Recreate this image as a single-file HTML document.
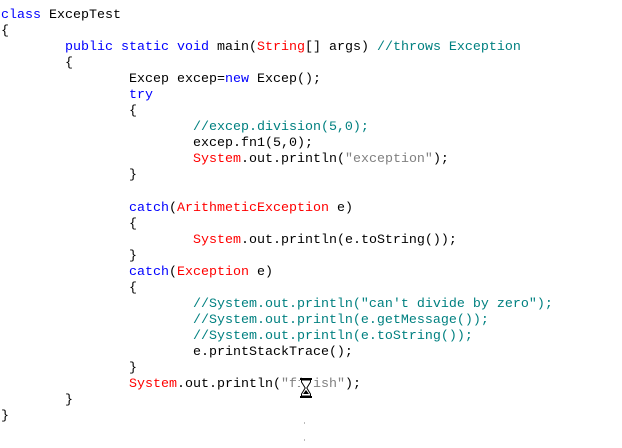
<!DOCTYPE html>
<html><head><style>
html,body{margin:0;padding:0;background:#fff;width:622px;height:448px;overflow:hidden}
pre{margin:0;position:absolute;left:1px;top:8px;font-family:"Liberation Mono",monospace;font-size:13.33px;line-height:16.04px;color:#000;tab-size:8}
.k{color:#0000ff}.r{color:#ff0000}.c{color:#008080}.s{color:#808080}
.hg{position:absolute;left:300px;top:378px;width:12px;height:20px}
.d{position:absolute;left:304px;width:1px;height:2px;background:#bbb}
</style></head><body>
<pre><span class="k">class</span> ExcepTest
{
	<span class="k">public static void</span> main(<span class="r">String</span>[] args) <span class="c">//throws Exception</span>
	{
		Excep excep=<span class="k">new</span> Excep();
		<span class="k">try</span>
		{
			<span class="c">//excep.division(5,0);</span>
			excep.fn1(5,0);
			<span class="r">System</span>.out.println(<span class="s">"exception"</span>);
		}

		<span class="k">catch</span>(<span class="r">ArithmeticException</span> e)
		{
			<span class="r">System</span>.out.println(e.toString());
		}
		<span class="k">catch</span>(<span class="r">Exception</span> e)
		{
			<span class="c">//System.out.println("can't divide by zero");</span>
			<span class="c">//System.out.println(e.getMessage());</span>
			<span class="c">//System.out.println(e.toString());</span>
			e.printStackTrace();
		}
		<span class="r">System</span>.out.println(<span class="s">"finish"</span>);
	}
}</pre>
<svg class="hg" viewBox="0 0 12 20"><rect x="0" y="0" width="12" height="20" fill="#fff"/><rect x="0" y="0" width="12" height="2" fill="#000"/><rect x="0" y="18" width="12" height="2" fill="#000"/><path d="M1.5 2 L10.5 2 L10.5 4 L6.8 10 L10.5 16 L10.5 18 L1.5 18 L1.5 16 L5.2 10 L1.5 4 Z" fill="#fff" stroke="#000" stroke-width="1"/><path d="M3 16 L6 12 L9 16 Z" fill="#000"/></svg>
<div class="d" style="top:422px"></div><div class="d" style="top:439px"></div>
</body></html>
